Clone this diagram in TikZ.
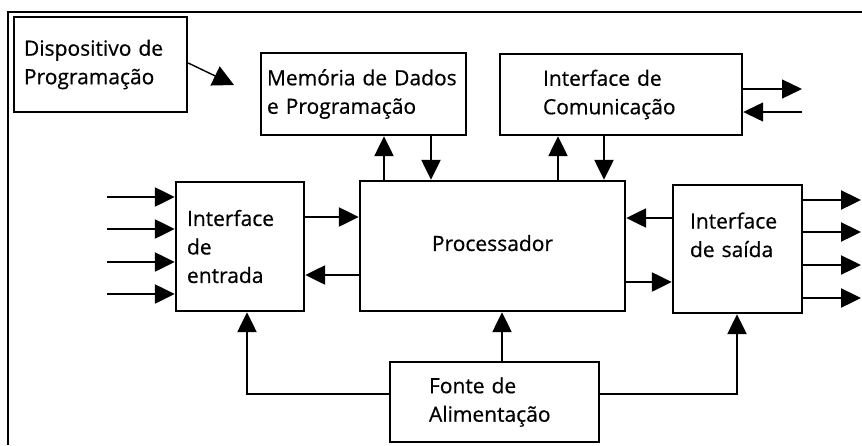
\documentclass[tikz,border=0pt]{standalone}
\usepackage{fontspec}
\setmainfont{Open Sans}[FakeBold=0.6]
\usepackage{tikz}
\usetikzlibrary{arrows.meta}

\begin{document}
\begin{tikzpicture}
  [x=1pt,y=-1pt,
   box/.style={draw,line width=2.4pt,align=left,inner sep=0pt,
     font=\fontsize{21}{28.5}\selectfont},
   arr/.style={line width=2.4pt,-{Triangle[length=20pt,width=19pt]}},
   thinarr/.style={line width=1.3pt,-{Triangle[length=20pt,width=19pt]}}]
  \useasboundingbox (0,0) rectangle (862,445);
  \draw[line width=1.4pt] (8,445) -- (8,12) -- (862,12);

  \node[box,minimum width=173,minimum height=95,text width=153] (disp) at (100.5,64.5) {Dispositivo de\\Programação};
  \node[box,minimum width=205,minimum height=82,text width=193] (mem) at (363.5,94) {Memória de Dados\\e Programação};
  \node[box,minimum width=242,minimum height=81,text width=156] (com) at (621,94.5) {Interface de\\Comunicação};
  \node[box,minimum width=265,minimum height=130] (proc) at (492.5,246) {\raisebox{6pt}{Processador}};
  \node[box,minimum width=128,minimum height=129,text width=106] (ent) at (240,246.5) {Interface\\de\\entrada};
  \node[box,minimum width=129,minimum height=128,text width=95] (sai) at (737.5,249) {Interface\\de saída\\~};
  \node[box,minimum width=209,minimum height=80,text width=131] (fonte) at (494.5,402) {Fonte de\\Alimentação};

  % programacao
  \coordinate (dtip) at (234,85);
  \draw[line width=1.4pt,-{Triangle[length=21pt,width=21pt]}] (disp.east |- 0,63) -- (dtip);

  % barramento com memoria e comunicacao
  \foreach \x in {384,558}
    \draw[arr] (\x,0 |- proc.north) -- (\x,0 |- mem.south);
  \foreach \x in {431,604}
    \draw[arr] (\x,0 |- mem.south) -- (\x,0 |- proc.north);

  \coordinate (cout) at (802,89);
  \coordinate (cin) at (802,112);
  \draw[thinarr] (com.east |- cout) -- (cout);
  \draw[thinarr] (cin) -- (com.east |- cin);

  % entradas e saidas
  \foreach \y in {197,229,262,294} {
    \coordinate (in\y) at (107,\y);
    \draw[arr] (in\y) -- (ent.west |- in\y);
  }
  \foreach \y in {200,232,265,298} {
    \coordinate (out\y) at (861,\y);
    \draw[arr] (sai.east |- out\y) -- (out\y);
  }

  \draw[arr] (ent.east |- 0,217) -- (proc.west |- 0,217);
  \draw[arr] (proc.west |- 0,275) -- (ent.east |- 0,275);
  \draw[arr] (sai.west |- 0,218) -- (proc.east |- 0,218);
  \draw[arr] (proc.east |- 0,282) -- (sai.west |- 0,282);

  % alimentacao
  \draw[arr] (502,0 |- fonte.north) -- (502,0 |- proc.south);
  \draw[arr] (fonte.west |- 0,394) -| (247,0 |- ent.south);
  \draw[arr] (fonte.east |- 0,394) -| (737,0 |- sai.south);

\end{tikzpicture}
\end{document}
